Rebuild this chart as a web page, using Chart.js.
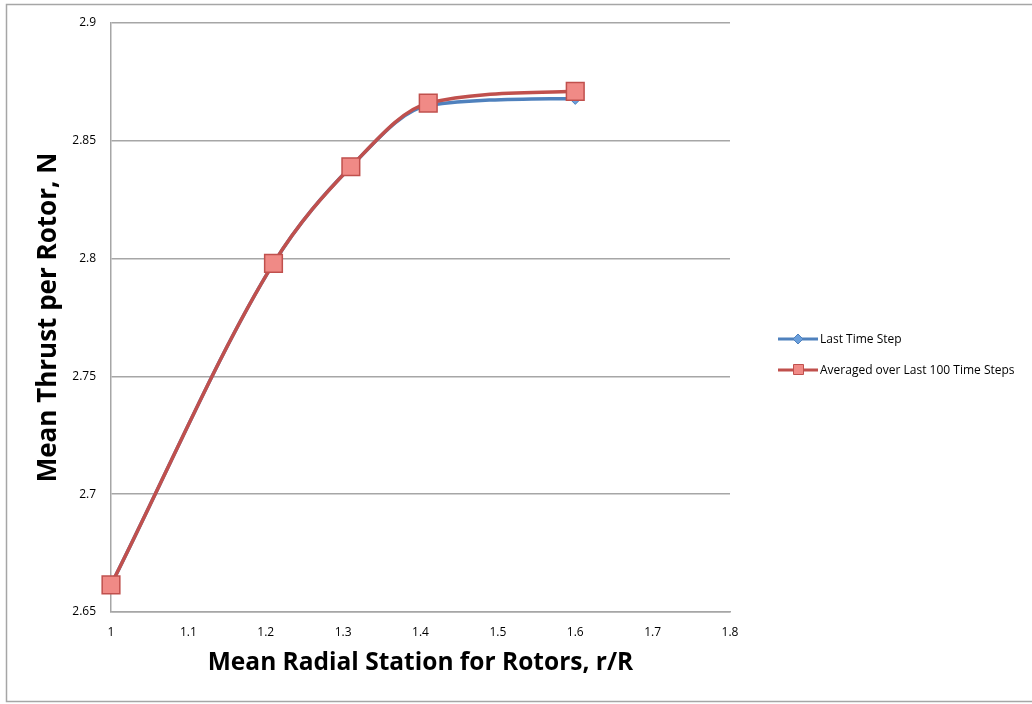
<!DOCTYPE html>
<html>
<head>
<meta charset="utf-8">
<script src="https://cdn.jsdelivr.net/npm/chart.js@4"></script>
<style>
  body { margin: 0; background: #fff; }
  #wrap { width: 1032px; height: 704px; position: relative; }
</style>
</head>
<body>
<div id="wrap"><canvas id="myChart" width="1032" height="704"></canvas></div>
<script>
const radialStation = [1.0, 1.21, 1.31, 1.41, 1.6]
const lastTimeStep = [2.6615, 2.798, 2.839, 2.865, 2.868]
const averaged100 = [2.6615, 2.798, 2.839, 2.866, 2.871]
const xTicks = [1, 1.1, 1.2, 1.3, 1.4, 1.5, 1.6, 1.7, 1.8]
const yTicks = [2.65, 2.7, 2.75, 2.8, 2.85, 2.9]

const toPoints = (xs, ys) => xs.map((x, i) => ({ x: x, y: ys[i] }))

// frame around the whole chart + the legend on the right
const framePlugin = {
  id: 'frame',
  beforeDraw(chart) {
    const ctx = chart.ctx
    ctx.save()
    ctx.strokeStyle = '#a6a6a6'
    ctx.lineWidth = 1.5
    ctx.strokeRect(6.5, 4.5, 1030, 697)
    ctx.restore()
  },
  afterDraw(chart) {
    const ctx = chart.ctx
    ctx.save()
    ctx.font = '12px "Open Sans"'
    ctx.textBaseline = 'middle'
    chart.data.datasets.forEach((ds, i) => {
      const y = 339 + i * 31
      ctx.strokeStyle = ds.borderColor
      ctx.lineWidth = 3
      ctx.beginPath()
      ctx.moveTo(778, y)
      ctx.lineTo(818, y)
      ctx.stroke()
      ctx.fillStyle = ds.pointBackgroundColor
      ctx.strokeStyle = ds.pointBorderColor
      ctx.lineWidth = 1
      ctx.beginPath()
      if (ds.pointStyle === 'rectRot') {
        ctx.moveTo(798, y - 5); ctx.lineTo(803, y); ctx.lineTo(798, y + 5); ctx.lineTo(793, y)
        ctx.closePath()
      } else {
        ctx.rect(793.5, y - 5.5, 10, 10)
      }
      ctx.fill()
      ctx.stroke()
      ctx.fillStyle = '#000'
      ctx.fillText(ds.label, 820, y + 1)
    })
    ctx.restore()
  }
}

const ctx = document.getElementById('myChart').getContext('2d')
new Chart(ctx, {
  type: 'scatter',
  data: {
    datasets: [{
      label: 'Last Time Step',
      data: toPoints(radialStation, lastTimeStep),
      showLine: true,
      cubicInterpolationMode: 'monotone',
      clip: false,
      borderColor: '#4f81bd',
      borderWidth: 3.5,
      pointStyle: 'rectRot',
      pointRadius: 6,
      pointBackgroundColor: '#6a9fdc',
      pointBorderColor: '#4f81bd',
      pointBorderWidth: 1,
      order: 2
    }, {
      label: 'Averaged over Last 100 Time Steps',
      data: toPoints(radialStation, averaged100),
      showLine: true,
      cubicInterpolationMode: 'monotone',
      clip: false,
      borderColor: '#c0504d',
      borderWidth: 3.5,
      pointStyle: 'rect',
      pointRadius: 12.5,
      pointBackgroundColor: '#f08a86',
      pointBorderColor: '#c0504d',
      pointBorderWidth: 1.5,
      order: 1
    }]
  },
  options: {
    responsive: false,
    animation: false,
    layout: { padding: { left: 0, right: 302, top: 23, bottom: 0 } },
    plugins: { legend: { display: false }, tooltip: { enabled: false } },
    scales: {
      x: {
        type: 'linear',
        min: 1, max: 1.8,
        afterBuildTicks: axis => { axis.ticks = xTicks.map(v => ({ value: v })) },
        afterFit: axis => { axis.height = 92 },
        grid: { display: false, drawTicks: false },
        border: { color: '#a6a6a6', width: 1.5 },
        ticks: {
          color: '#000', font: { family: 'Open Sans', size: 12 }, padding: 13, maxRotation: 0,
          callback: v => String(v)
        },
        title: {
          display: true,
          text: 'Mean Radial Station for Rotors, r/R',
          color: '#000',
          font: { family: 'Open Sans', size: 24.5, weight: 'bold' },
          padding: { top: 0, bottom: 26 }
        }
      },
      y: {
        min: 2.65, max: 2.9,
        afterBuildTicks: axis => { axis.ticks = yTicks.map(v => ({ value: v })) },
        afterFit: axis => { axis.width = 111 },
        grid: { color: '#a6a6a6', lineWidth: 1.5, drawTicks: false },
        border: { color: '#a6a6a6', width: 1.5 },
        ticks: {
          color: '#000', font: { family: 'Open Sans', size: 12 }, padding: 15,
          callback: v => String(v)
        },
        title: {
          display: true,
          text: 'Mean Thrust per Rotor, N',
          color: '#000',
          font: { family: 'Open Sans', size: 26, weight: 'bold' },
          padding: { top: 33, bottom: 0 }
        }
      }
    }
  },
  plugins: [framePlugin]
})
</script>
</body>
</html>
